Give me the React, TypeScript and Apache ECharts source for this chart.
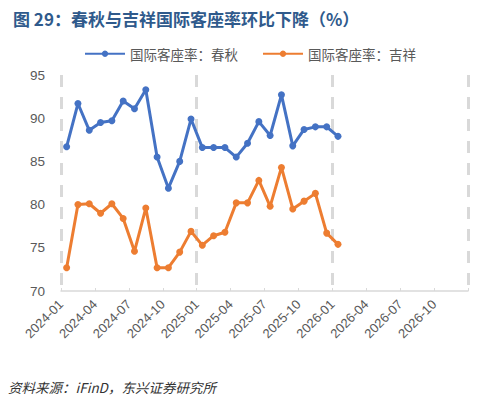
import React, { useEffect, useRef } from 'react';
import * as echarts from 'echarts';

// monthly data, 2024-01 .. 2026-01
const months = [
  '2024-01', '2024-02', '2024-03', '2024-04', '2024-05', '2024-06',
  '2024-07', '2024-08', '2024-09', '2024-10', '2024-11', '2024-12',
  '2025-01', '2025-02', '2025-03', '2025-04', '2025-05', '2025-06',
  '2025-07', '2025-08', '2025-09', '2025-10', '2025-11', '2025-12',
  '2026-01',
];
const springAir = [
  86.7, 91.7, 88.6, 89.5, 89.7, 92.0, 91.1, 93.3, 85.5, 81.9, 85.0, 89.9,
  86.6, 86.6, 86.6, 85.5, 87.1, 89.6, 88.0, 92.7, 86.8, 88.7, 89.0, 89.0,
  87.9,
];
const juneyao = [
  72.7, 80.0, 80.1, 79.0, 80.1, 78.4, 74.6, 79.6, 72.7, 72.7, 74.5, 76.9,
  75.3, 76.4, 76.8, 80.2, 80.2, 82.8, 79.8, 84.3, 79.5, 80.4, 81.3, 76.7,
  75.4,
];
// axis spans 2024-01 .. 2027-01, tick every 3 months
const tickLabels = [
  '2024-01', '2024-04', '2024-07', '2024-10',
  '2025-01', '2025-04', '2025-07', '2025-10',
  '2026-01', '2026-04', '2026-07', '2026-10', '',
];
const seriesNames = ['国际客座率：春秋', '国际客座率：吉祥'];

const FONT = '"Liberation Sans", "Noto Sans CJK SC", sans-serif';

const App: React.FC = () => {
  const chartRef = useRef<HTMLDivElement | null>(null);

  useEffect(() => {
    if (!chartRef.current) return;
    const chart = echarts.init(chartRef.current, undefined, { renderer: 'svg' });

    // x is the month index counted from months[0]; points sit mid-month
    const toPoints = (vals: number[]) => vals.map((v, i) => [i + 0.5, v]);

    const option = {
      animation: false,
      backgroundColor: '#ffffff',
      textStyle: { fontFamily: FONT },
      title: {
        text: '图 29：春秋与吉祥国际客座率环比下降（%）',
        left: 8,
        top: 5,
        textStyle: {
          fontFamily: '"Noto Sans CJK SC", sans-serif',
          fontSize: 17,
          fontWeight: 'bold',
          color: '#2f5a8c',
        },
      },
      legend: {
        left: 84,
        top: 47,
        padding: 0,
        itemWidth: 40,
        itemHeight: 8,
        itemGap: 24,
        textStyle: {
          fontFamily: '"Noto Sans CJK SC", sans-serif',
          fontSize: 13.5,
          color: '#595959',
        },
        data: seriesNames,
      },
      grid: { left: 61, right: 22, top: 75, bottom: 110 },
      xAxis: [
        {
          type: 'value',
          min: 0,
          max: 36,
          interval: 3,
          axisLine: { show: true, lineStyle: { color: '#d9d9d9', width: 1.5 } },
          axisTick: { show: true, inside: true, length: 3, lineStyle: { color: '#d9d9d9' } },
          splitLine: { show: false },
          axisLabel: {
            rotate: 45,
            margin: 11,
            fontSize: 13,
            fontFamily: 'Arial, "Liberation Sans", sans-serif',
            color: '#595959',
            formatter: (v: number) => tickLabels[Math.round(v / 3)] ?? '',
          },
        },
        {
          // yearly dashed separators
          type: 'value',
          min: 0,
          max: 36,
          interval: 12,
          position: 'bottom',
          axisLine: { show: false },
          axisTick: { show: false },
          axisLabel: { show: false },
          splitLine: {
            show: true,
            lineStyle: { color: '#d9d9d9', width: 3, type: [12, 10] },
          },
        },
      ],
      yAxis: {
        type: 'value',
        min: 70,
        max: 95,
        interval: 5,
        axisLine: { show: false },
        axisTick: { show: false },
        splitLine: { show: false },
        axisLabel: { fontSize: 13.5, fontFamily: FONT, color: '#595959', margin: 16 },
      },
      series: [
        {
          name: seriesNames[0],
          type: 'line',
          xAxisIndex: 0,
          data: toPoints(springAir),
          symbol: 'circle',
          symbolSize: 7,
          lineStyle: { width: 3, color: '#4472c4' },
          itemStyle: { color: '#4472c4' },
        },
        {
          name: seriesNames[1],
          type: 'line',
          xAxisIndex: 0,
          data: toPoints(juneyao),
          symbol: 'circle',
          symbolSize: 7,
          lineStyle: { width: 3, color: '#ed7d31' },
          itemStyle: { color: '#ed7d31' },
        },
      ],
      graphic: [
        {
          type: 'text',
          left: 8,
          top: 380,
          style: {
            text: '资料来源：iFinD，东兴证券研究所',
            font: 'italic 13.5px "Noto Sans CJK SC", sans-serif',
            fill: '#333333',
          },
        },
      ],
    };

    chart.setOption(option);
    return () => {
      chart.dispose();
    };
  }, []);

  return (
    <div
      ref={chartRef}
      style={{ position: 'fixed', left: 0, top: 0, width: 490, height: 401, background: '#fff' }}
    />
  );
};

export default App;
